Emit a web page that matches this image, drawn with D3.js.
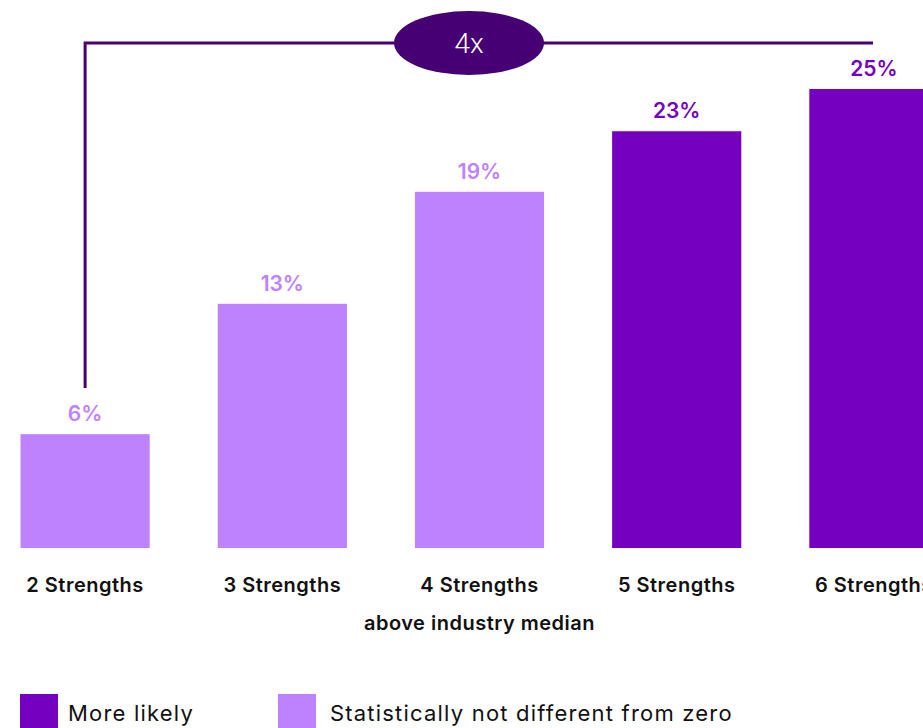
<!DOCTYPE html>
<html>
<head>
<meta charset="utf-8">
<script src="https://cdn.jsdelivr.net/npm/d3@7"></script>
<style>
  body { margin: 0; background: #fff; }
  svg { display: block; font-family: Inter, Roboto, "Liberation Sans", sans-serif; }
</style>
</head>
<body>
<div id="chart"></div>
<script>
// chart data
var categories = ["2 Strengths", "3 Strengths", "4 Strengths", "5 Strengths", "6 Strengths"];
var values = [6.2, 13.3, 19.4, 22.7, 25];
var valueLabels = ["6%", "13%", "19%", "23%", "25%"];
var groups = ["not", "not", "not", "more", "more"];
var legendLabels = ["More likely", "Statistically not different from zero"];

var dark = "#7500c0", light = "#be82ff", bracket = "#460073";
var color = function(g) { return g === "more" ? dark : light; };

var width = 923, height = 728;
var svg = d3.select("#chart").append("svg")
  .attr("width", width)
  .attr("height", height);

// x band scale: bar step 197, width 129
var x = d3.scaleBand()
  .domain(categories)
  .range([-13, 972])
  .paddingInner(0.345)
  .paddingOuter(0.17);

var y = d3.scaleLinear()
  .domain([0, 25])
  .range([548, 89]);

// bars
svg.selectAll("rect.bar")
  .data(categories)
  .enter().append("rect")
  .attr("class", "bar")
  .attr("x", function(d) { return x(d); })
  .attr("width", x.bandwidth())
  .attr("y", function(d, i) { return y(values[i]); })
  .attr("height", function(d, i) { return y(0) - y(values[i]); })
  .attr("fill", function(d, i) { return color(groups[i]); });

// value labels
svg.selectAll("text.val")
  .data(categories)
  .enter().append("text")
  .attr("class", "val")
  .attr("x", function(d) { return x(d) + x.bandwidth() / 2; })
  .attr("y", function(d, i) { return y(values[i]) - 13; })
  .attr("text-anchor", "middle")
  .style("font-size", "21px")
  .style("font-weight", "600")
  .attr("fill", function(d, i) { return color(groups[i]); })
  .text(function(d, i) { return valueLabels[i]; });

// category labels
svg.selectAll("text.cat")
  .data(categories)
  .enter().append("text")
  .attr("class", "cat")
  .attr("x", function(d) { return x(d) + x.bandwidth() / 2; })
  .attr("y", 592)
  .attr("text-anchor", "middle")
  .style("font-size", "20px")
  .style("font-weight", "600")
  .style("letter-spacing", "0.5px")
  .attr("fill", "#111")
  .text(function(d) { return d; });

svg.append("text")
  .attr("x", x(categories[2]) + x.bandwidth() / 2)
  .attr("y", 630)
  .attr("text-anchor", "middle")
  .style("font-size", "20px")
  .style("font-weight", "600")
  .style("letter-spacing", "0.5px")
  .attr("fill", "#111")
  .text("above industry median");

// bracket showing 4x
var bx0 = x(categories[0]) + x.bandwidth() / 2;
var by = 43;
svg.append("path")
  .attr("d", d3.line()([[bx0, 388], [bx0, by], [873, by]]))
  .attr("fill", "none")
  .attr("stroke", bracket)
  .attr("stroke-width", 3);

svg.append("ellipse")
  .attr("cx", 469).attr("cy", by)
  .attr("rx", 75).attr("ry", 32)
  .attr("fill", bracket);

svg.append("text")
  .attr("x", 469).attr("y", by + 10)
  .attr("text-anchor", "middle")
  .style("font-family", "Roboto, sans-serif")
  .style("font-size", "28px")
  .style("font-weight", "300")
  .attr("fill", "#fff")
  .text("4x");

// legend
var legend = svg.selectAll("g.leg")
  .data(legendLabels)
  .enter().append("g")
  .attr("class", "leg")
  .attr("transform", function(d, i) { return "translate(" + (i === 0 ? 20 : 278) + ",694)"; });

legend.append("rect")
  .attr("width", 38).attr("height", 34)
  .attr("fill", function(d, i) { return i === 0 ? dark : light; });

legend.append("text")
  .attr("x", function(d, i) { return i === 0 ? 48 : 52; })
  .attr("y", 27)
  .style("font-size", "22px")
  .style("letter-spacing", "1.2px")
  .attr("fill", "#111")
  .text(function(d) { return d; });
</script>
</body>
</html>
